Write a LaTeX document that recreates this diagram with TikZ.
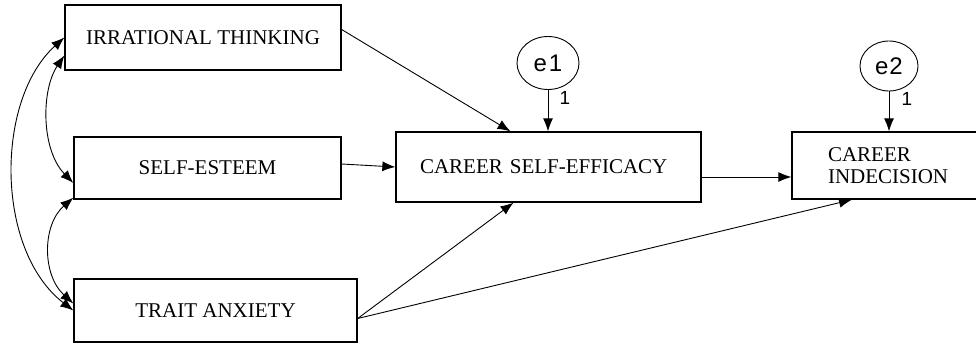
\documentclass[tikz,border=0pt]{standalone}
\usepackage{fontspec}
\setmainfont{Liberation Serif}
\setsansfont{Liberation Sans}
\usetikzlibrary{arrows.meta,shapes.geometric}

\begin{document}
\begin{tikzpicture}[x=1pt,y=-1pt]
\tikzstyle{every node}=[inner sep=0pt]
\tikzstyle{var}=[draw, line width=1.3pt, rectangle, font=\fontsize{21}{22}\selectfont]
\tikzstyle{err}=[draw, line width=0.9pt, ellipse, font=\sffamily\fontsize{24}{26}\selectfont]
\tikzstyle{reg}=[line width=0.9pt, -{Latex[length=13pt,width=10pt]}]
\tikzstyle{cov}=[line width=0.9pt, {Latex[length=13pt,width=10pt]}-{Latex[length=13pt,width=10pt]}]
\tikzstyle{fix}=[font=\sffamily\fontsize{19}{20}\selectfont]

\useasboundingbox (0,0) rectangle (976,343);

% exogenous variables
\node[var, minimum width=276pt, minimum height=65pt] (irr) at (203,37.5) {IRRATIONAL THINKING};
\node[var, minimum width=267pt, minimum height=62pt] (se) at (207.5,168) {SELF-ESTEEM};
\node[var, minimum width=283pt, minimum height=63pt] (ta) at (215.5,310.5) {TRAIT ANXIETY};

% endogenous variables
\node[var, text width=257pt, inner xsep=24pt, minimum height=70pt, align=left] (cse) at (548.5,167) {CAREER SELF-EFFICACY};
\node[var, text width=114pt, inner xsep=36pt, minimum height=67pt, align=left] (ci) at (885,165.5) {CAREER\\INDECISION};

% residuals
\node[err, minimum width=62pt, minimum height=53pt] (e1) at (548,63) {e\kern2pt 1};
\node[err, minimum width=58pt, minimum height=50pt] (e2) at (889,66) {e\kern1pt 2};

% paths
\draw[reg] ([yshift=8pt]irr.east) -- ([xshift=-38pt]cse.north);
\draw[reg] ([yshift=4pt]se.east) -- (cse.west);
\draw[reg] ([yshift=-8pt]ta.east) -- ([xshift=-35pt]cse.south);
\draw[reg] ([yshift=-8pt]ta.east) -- ([xshift=-33pt]ci.south);
\draw[reg] ([yshift=-10pt]cse.east) -- ([yshift=-11.5pt]ci.west);
\draw[reg] (e1.south) -- (e1.south |- cse.north) node[fix, pos=0.2, xshift=17pt] {1};
\draw[reg] (e2.south) -- (e2.south |- ci.north) node[fix, pos=0.18, xshift=18pt] {1};

% covariances
\draw[cov] (irr.west) .. controls (-5,100) and (-5,250) .. (ta.west);
\draw[cov] ([yshift=-18pt]irr.west) .. controls (41,90) and (41,150) .. ([yshift=-15pt]se.west);
\draw[cov] ([yshift=2pt]se.south west) .. controls (42,225) and (42,275) .. ([yshift=7pt]ta.west);

\end{tikzpicture}
\end{document}
